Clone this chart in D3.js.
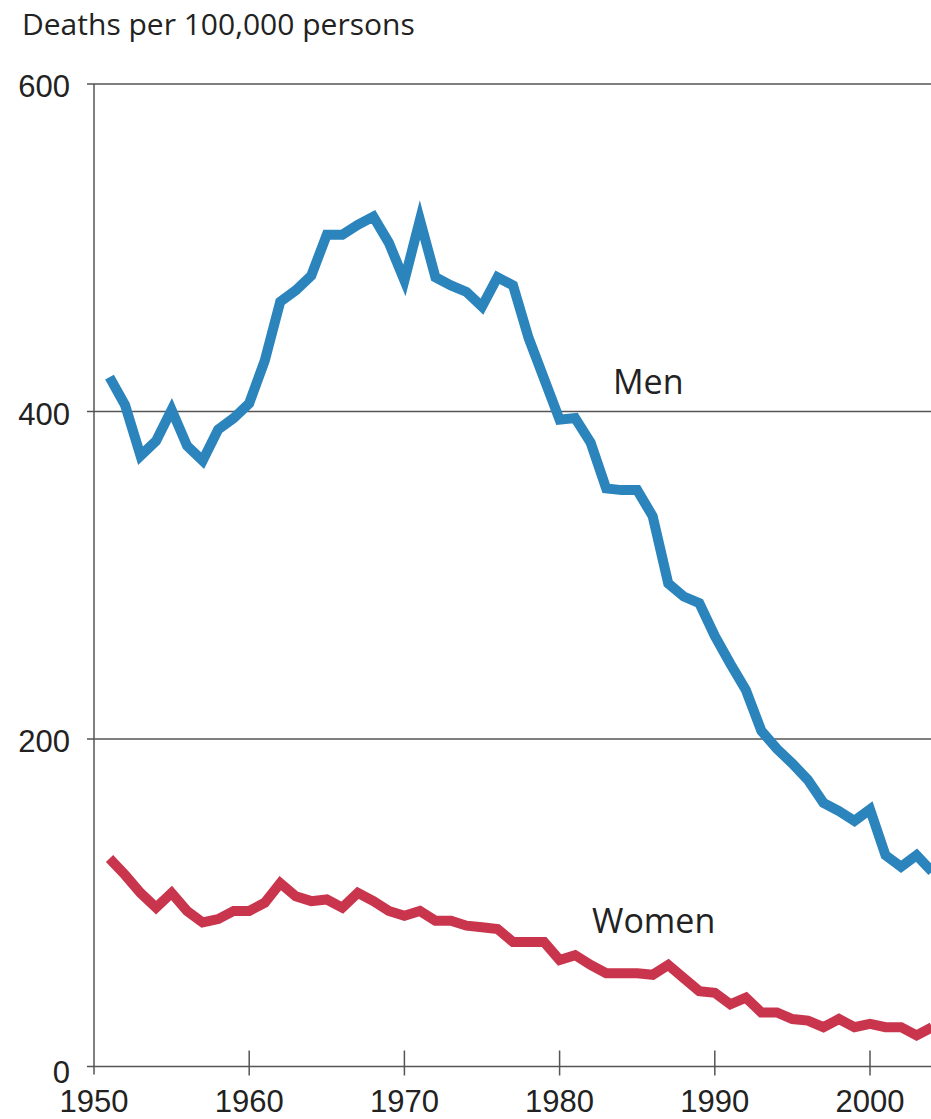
<!DOCTYPE html>
<html>
<head>
<meta charset="utf-8">
<script src="https://cdn.jsdelivr.net/npm/d3@7"></script>
<style>
  body { margin: 0; background: #fff; }
  svg { display: block; }
</style>
</head>
<body>
<svg id="chart" width="931" height="1119"></svg>
<script>
// Deaths per 100,000 persons, men vs women, 1951-2004

const years = d3.range(1951, 2005);

const men = [
  421, 404, 373, 382, 401, 379, 370, 389, 396, 405,
  431, 467, 474, 483, 508, 508, 514, 519, 503, 480,
  517, 482, 477, 473, 464, 482, 477, 445, 420, 395,
  396, 381, 353, 352, 352, 336, 295, 287, 283, 263,
  246, 230, 205, 194, 185, 175, 161, 156, 150, 157,
  129, 122, 129, 119
];

const women = [
  127, 117, 106, 97, 106, 95, 88, 90, 95, 95,
  100, 112, 104, 101, 102, 97, 106, 101, 95, 92,
  95, 89, 89, 86, 85, 84, 76, 76, 76, 65,
  68, 62, 57, 57, 57, 56, 62, 54, 46, 45,
  38, 42, 33, 33, 29, 28, 24, 29, 24, 26,
  24, 24, 19, 24
];

const yTicks = [0, 200, 400, 600];
const xTicks = [1950, 1960, 1970, 1980, 1990, 2000];

const svg = d3.select("#chart");

const x = d3.scaleLinear().domain([1950, 2000]).range([94, 870]);
const y = d3.scaleLinear().domain([0, 600]).range([1066.5, 84]);

const tickFont = "'Liberation Sans', Arial, sans-serif";
const labelFont = "'Open Sans', 'Noto Sans', sans-serif";
const axisColor = "#555";

// horizontal gridlines (with a short tick left of the axis)
svg.append("g")
  .selectAll("line")
  .data(yTicks)
  .join("line")
  .attr("x1", 87)
  .attr("x2", 931)
  .attr("y1", d => y(d))
  .attr("y2", d => y(d))
  .attr("stroke", axisColor)
  .attr("stroke-width", 1.5);

// y axis line
svg.append("line")
  .attr("x1", x(1950)).attr("x2", x(1950))
  .attr("y1", y(600)).attr("y2", y(0) + 8)
  .attr("stroke", axisColor)
  .attr("stroke-width", 1.5);

// x ticks
svg.append("g")
  .selectAll("line")
  .data(xTicks.slice(1))
  .join("line")
  .attr("x1", d => x(d)).attr("x2", d => x(d))
  .attr("y1", y(0) - 16).attr("y2", y(0) + 9)
  .attr("stroke", axisColor)
  .attr("stroke-width", 1.5);

// y tick labels
svg.append("g")
  .selectAll("text")
  .data(yTicks)
  .join("text")
  .attr("x", 70)
  .attr("y", d => y(d) + (d === 0 ? 5 : 2))
  .attr("dy", "0.36em")
  .attr("text-anchor", "end")
  .attr("font-family", tickFont)
  .attr("font-size", 31)
  .attr("fill", "#222")
  .text(d => d);

// x tick labels
svg.append("g")
  .selectAll("text")
  .data(xTicks)
  .join("text")
  .attr("x", d => x(d))
  .attr("y", 1112)
  .attr("text-anchor", "middle")
  .attr("font-family", tickFont)
  .attr("font-size", 31)
  .attr("fill", "#222")
  .text(d => d);

// unit title
svg.append("text")
  .attr("x", 22)
  .attr("y", 35)
  .attr("font-family", labelFont)
  .attr("font-size", 30)
  .attr("fill", "#222")
  .text("Deaths per 100,000 persons");

const line = d3.line()
  .x((d, i) => x(years[i]))
  .y(d => y(d));

svg.append("path")
  .datum(men)
  .attr("d", line)
  .attr("fill", "none")
  .attr("stroke", "#2b84bb")
  .attr("stroke-width", 10)
  .attr("stroke-linejoin", "miter");

svg.append("path")
  .datum(women)
  .attr("d", line)
  .attr("fill", "none")
  .attr("stroke", "#c9354c")
  .attr("stroke-width", 10)
  .attr("stroke-linejoin", "miter");

// series labels
svg.append("text")
  .attr("x", 613)
  .attr("y", 394)
  .attr("font-family", labelFont)
  .attr("font-size", 34)
  .attr("fill", "#222")
  .text("Men");

svg.append("text")
  .attr("x", 592)
  .attr("y", 933)
  .attr("font-family", labelFont)
  .attr("font-size", 34)
  .attr("fill", "#222")
  .text("Women");
</script>
</body>
</html>
